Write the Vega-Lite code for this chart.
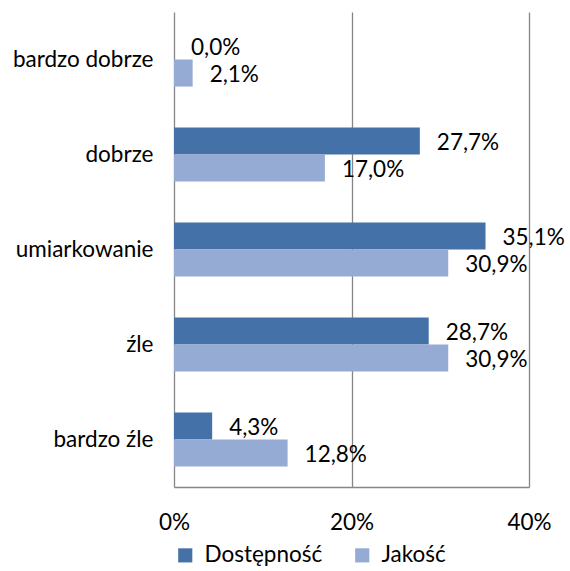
{
  "$schema": "https://vega.github.io/schema/vega-lite/v6.json",
  "width": 355,
  "height": 475,
  "autosize": {"type": "none"},
  "padding": {"left": 174, "top": 12, "right": 41, "bottom": 84},
  "config": {
    "locale": {"number": {"decimal": ",", "thousands": " ", "grouping": [3], "currency": ["", " zł"]}},
    "view": {"stroke": null},
    "font": "Lato"
  },
  "data": {
    "values": [
      {"kategoria": "bardzo dobrze", "seria": "Dostępność", "wartosc": 0.0},
      {"kategoria": "bardzo dobrze", "seria": "Jakość", "wartosc": 0.021},
      {"kategoria": "dobrze", "seria": "Dostępność", "wartosc": 0.277},
      {"kategoria": "dobrze", "seria": "Jakość", "wartosc": 0.170},
      {"kategoria": "umiarkowanie", "seria": "Dostępność", "wartosc": 0.351},
      {"kategoria": "umiarkowanie", "seria": "Jakość", "wartosc": 0.309},
      {"kategoria": "źle", "seria": "Dostępność", "wartosc": 0.287},
      {"kategoria": "źle", "seria": "Jakość", "wartosc": 0.309},
      {"kategoria": "bardzo źle", "seria": "Dostępność", "wartosc": 0.043},
      {"kategoria": "bardzo źle", "seria": "Jakość", "wartosc": 0.128}
    ]
  },
  "encoding": {
    "y": {
      "field": "kategoria", "type": "nominal",
      "sort": ["bardzo dobrze", "dobrze", "umiarkowanie", "źle", "bardzo źle"],
      "scale": {"paddingInner": 0.43, "paddingOuter": 0.215},
      "axis": {"title": null, "ticks": false, "domain": false, "labelPadding": 21, "labelFontSize": 22.5, "labelColor": "#000000", "labelFont": "Lato"}
    },
    "yOffset": {"field": "seria", "type": "nominal", "sort": ["Dostępność", "Jakość"], "scale": {"paddingInner": 0, "paddingOuter": 0}},
    "x": {
      "field": "wartosc", "type": "quantitative",
      "scale": {"domain": [0, 0.4], "nice": false},
      "axis": {"title": null, "values": [0, 0.2, 0.4], "format": ".0%", "ticks": false, "grid": true, "gridColor": "#868686", "gridWidth": 1.3, "domainColor": "#868686", "domainWidth": 1.3, "labelPadding": 24, "labelFontSize": 22.5, "labelColor": "#000000", "labelFont": "Lato", "labelFlush": false}
    }
  },
  "layer": [
    {
      "mark": {"type": "bar"},
      "encoding": {
        "color": {
          "field": "seria", "type": "nominal", "sort": ["Dostępność", "Jakość"],
          "scale": {"domain": ["Dostępność", "Jakość"], "range": ["#4472A8", "#95ABD4"]},
          "legend": {"title": null, "orient": "bottom", "direction": "horizontal", "symbolType": "square", "symbolSize": 200, "symbolStrokeWidth": 0, "labelFontSize": 22.5, "labelFont": "Lato", "labelColor": "#000000", "columnPadding": 28, "labelOffset": 8, "offset": 10}
        }
      }
    },
    {
      "mark": {"type": "text", "align": "left", "baseline": "middle", "dx": 17, "dy": 2, "fontSize": 22.5, "font": "Lato", "color": "#000000"},
      "encoding": {"text": {"field": "wartosc", "type": "quantitative", "format": ".1%"}}
    }
  ]
}
